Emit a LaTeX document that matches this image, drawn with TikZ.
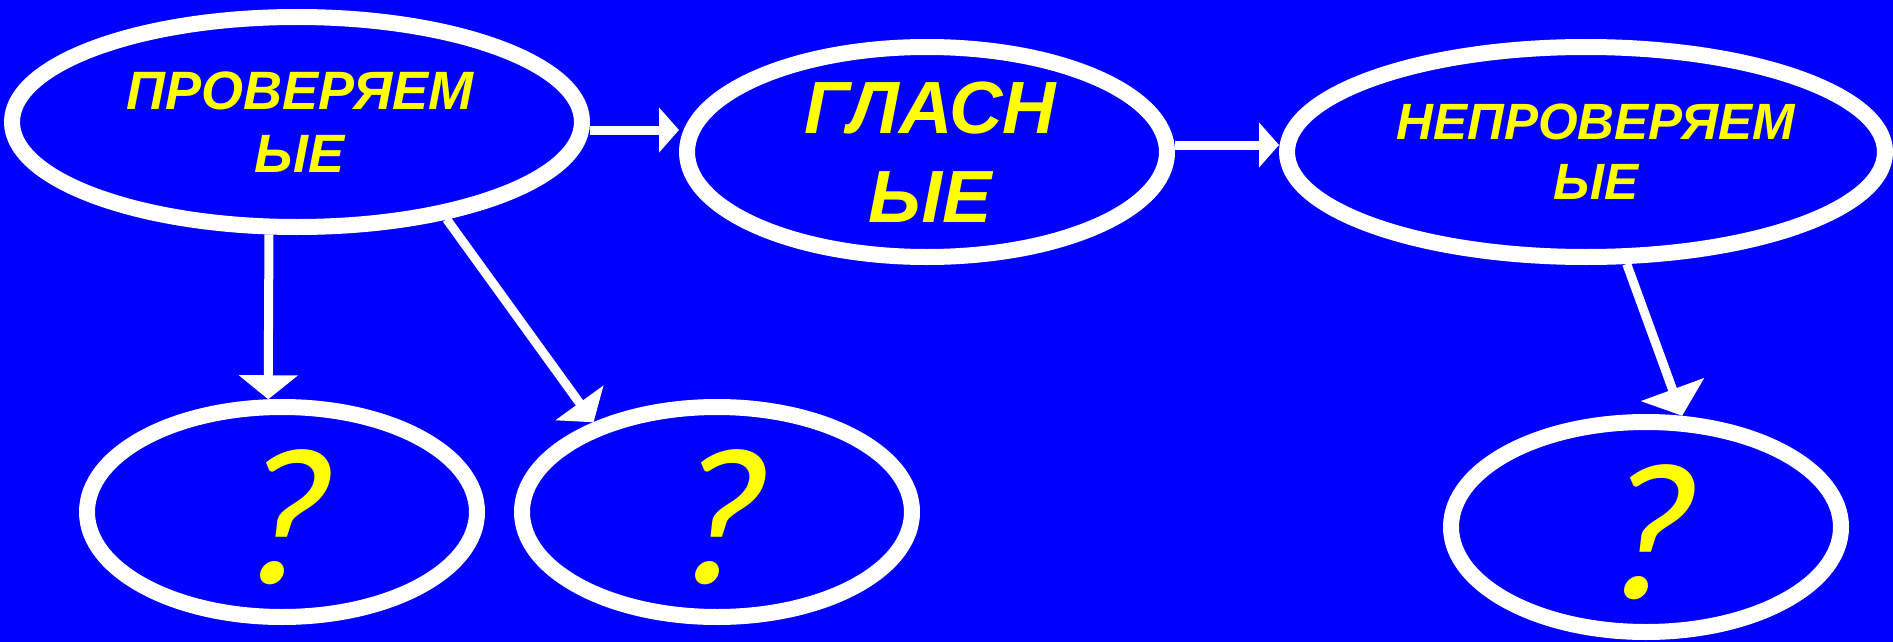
\documentclass[tikz,border=0pt]{standalone}
\usepackage{fontspec}
\setmainfont{Liberation Sans}
\newfontfamily\qfont[FakeSlant=0.2]{Carlito}
\usepackage{tikz}
\usetikzlibrary{arrows.meta, positioning, shapes}
\definecolor{slideblue}{RGB}{0,0,255}
\definecolor{slideyellow}{RGB}{255,255,0}

\begin{document}
\begin{tikzpicture}[x=1pt, y=-1pt,
	oval/.style={ellipse, draw=white, line width=16pt, fill=slideblue, inner sep=0pt, minimum height=210pt},
	word/.style={text=slideyellow, align=center, inner sep=0pt},
	qmark/.style={text=slideyellow, inner sep=0pt, font=\qfont\fontsize{196}{196}\selectfont},
	link/.style={draw=white, line width=9pt, -{Triangle[length=24pt, width=58pt]}},
	flow/.style={link, -{Triangle[length=20pt, width=44pt]}},
]

\useasboundingbox (0,0) rectangle (1893,642);
\fill[slideblue] (0,0) rectangle (1893,642); % background

\node[oval, minimum width=570pt] (checked) at (297,122) {};
\node[oval, minimum width=480pt] (vowels) at (927,152) {};
\node[oval, minimum width=598pt] (unchecked) at (1586,152) {};

\node[oval, minimum width=390pt] (q left) at (282,512) {};
\node[oval, minimum width=390pt] (q mid) at (717,512) {};
\node[oval, minimum width=390pt] (q right) at (1646,527) {};

\node[word, font=\bfseries\itshape\fontsize{54}{63}\selectfont, xshift=3pt] (checked text) at (checked) {ПРОВЕРЯЕМ\\ЫЕ};
\node[word, font=\bfseries\itshape\fontsize{74}{89}\selectfont, xshift=3pt] (vowels text) at (vowels) {ГЛАСН\\ЫЕ};
\node[word, font=\bfseries\itshape\fontsize{51}{60}\selectfont, xshift=10pt] (unchecked text) at (unchecked) {НЕПРОВЕРЯЕМ\\ЫЕ};

\foreach \q/\m in {q left/mark left, q mid/mark mid, q right/mark right} {
	\node[qmark, xshift=-6pt, yshift=-5pt] (\m) at (\q) {?};
}

\draw[flow] ([yshift=-8pt]checked.east) -- ([yshift=-8pt]checked.east -| vowels.west); % to vowels
\draw[flow] ([yshift=7pt]vowels.east) -- ([yshift=7pt]vowels.east -| unchecked.west); % to unchecked
\draw[link] (checked.-104.9) -- (q left.97.5);
\draw[link] (checked.-33.8) -- (q mid.144.9);
\draw[link, -{Triangle[length=28pt, width=66pt]}] (unchecked.-70.3) -- (q right.72.1);

\end{tikzpicture}
\end{document}
